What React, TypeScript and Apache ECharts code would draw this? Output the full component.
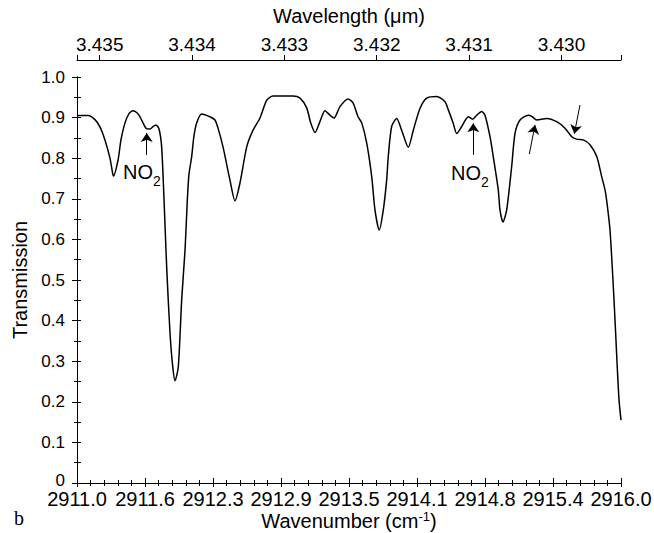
import React, { useEffect, useRef } from "react";
import * as echarts from "echarts";

// ---- data ----
const X0 = 2911.0;
const wavenumber = [
  2911.0, 2911.101, 2911.165, 2911.211, 2911.257, 2911.303, 2911.328, 2911.335, 2911.377, 2911.404,
  2911.441, 2911.478, 2911.515, 2911.551, 2911.579, 2911.634, 2911.671, 2911.699, 2911.726, 2911.754,
  2911.778, 2911.8, 2911.824, 2911.855, 2911.88, 2911.901, 2911.931, 2911.962, 2911.993, 2912.014,
  2912.029, 2912.054, 2912.075, 2912.1, 2912.146, 2912.222, 2912.268, 2912.296, 2912.342, 2912.406,
  2912.452, 2912.498, 2912.56, 2912.618, 2912.682, 2912.744, 2912.801, 2912.985, 2913.05, 2913.111,
  2913.148, 2913.188, 2913.233, 2913.279, 2913.325, 2913.362, 2913.417, 2913.491, 2913.537, 2913.583,
  2913.617, 2913.663, 2913.709, 2913.739, 2913.778, 2913.815, 2913.846, 2913.861, 2913.892, 2913.938,
  2913.984, 2914.045, 2914.091, 2914.153, 2914.214, 2914.306, 2914.382, 2914.413, 2914.458, 2914.49,
  2914.536, 2914.597, 2914.637, 2914.674, 2914.72, 2914.75, 2914.796, 2914.826, 2914.872, 2914.888,
  2914.915, 2914.949, 2914.995, 2915.026, 2915.072, 2915.148, 2915.18, 2915.226, 2915.317, 2915.409,
  2915.485, 2915.547, 2915.592, 2915.654, 2915.715, 2915.777, 2915.823, 2915.853, 2915.871, 2915.899,
  2915.936, 2915.963, 2915.982, 2916.0,
];
const transmission = [
  0.905, 0.905, 0.895, 0.877, 0.845, 0.8, 0.762, 0.756, 0.795, 0.845,
  0.887, 0.91, 0.917, 0.912, 0.902, 0.874, 0.872, 0.878, 0.882, 0.872,
  0.828, 0.697, 0.533, 0.369, 0.286, 0.252, 0.286, 0.451, 0.574, 0.697,
  0.76, 0.804, 0.855, 0.887, 0.909, 0.902, 0.894, 0.874, 0.828, 0.746,
  0.695, 0.739, 0.828, 0.869, 0.899, 0.943, 0.953, 0.953, 0.948, 0.924,
  0.887, 0.863, 0.89, 0.917, 0.906, 0.899, 0.927, 0.946, 0.936, 0.902,
  0.887, 0.837, 0.754, 0.672, 0.623, 0.672, 0.746, 0.804, 0.878, 0.898,
  0.869, 0.827, 0.869, 0.923, 0.948, 0.952, 0.939, 0.919, 0.886, 0.861,
  0.878, 0.902, 0.896, 0.906, 0.915, 0.906, 0.853, 0.804, 0.722, 0.672,
  0.643, 0.672, 0.779, 0.861, 0.894, 0.906, 0.903, 0.894, 0.898, 0.89,
  0.874, 0.853, 0.847, 0.845, 0.833, 0.804, 0.754, 0.722, 0.69, 0.623,
  0.45, 0.3, 0.204, 0.155,
];
const wavenumberTickLabels = [
  "2911.0", "2911.6", "2912.3", "2912.9", "2913.5", "2914.1", "2914.8", "2915.4", "2916.0",
];
const wavelengthTicks = [3.435, 3.434, 3.433, 3.432, 3.431, 3.43];
// annotation arrows: [x1, y1, x2, y2] in wavenumber / transmission (head at x2,y2)
const arrows = [
  [2911.641, 0.808, 2911.641, 0.862],
  [2914.642, 0.808, 2914.642, 0.886],
  [2915.157, 0.81, 2915.21, 0.882],
  [2915.623, 0.931, 2915.571, 0.86],
];

const FONT = "Liberation Sans, Arial, Helvetica, sans-serif";

export default function App() {
  const ref = useRef<HTMLDivElement>(null);
  useEffect(() => {
    if (!ref.current) return;
    const chart = echarts.init(ref.current, undefined, { renderer: "svg" });
    const wlMin = 1e4 / 2916.0;
    const wlMax = 1e4 / 2911.0;
    const seriesData = wavenumber.map((w, i) => [w - X0, transmission[i]]);
    const axisLineStyle = { color: "#000", width: 1 };
    chart.setOption({
      animation: false,
      backgroundColor: "#fff",
      textStyle: { fontFamily: FONT, color: "#000" },
      grid: { left: 77, right: 33, top: 77, bottom: 50, containLabel: false, outerBoundsMode: "none" },
      xAxis: [
        {
          type: "value",
          position: "bottom",
          min: 0,
          max: 5,
          interval: 0.625,
          axisLine: { show: true, lineStyle: axisLineStyle },
          axisTick: { show: true, inside: true, length: 5, lineStyle: axisLineStyle },
          minorTick: { show: true, splitNumber: 5, length: 3, lineStyle: { color: "#000", width: 1 } },
          splitLine: { show: false },
          minorSplitLine: { show: false },
          axisLabel: {
            color: "#000",
            fontSize: 20,
            lineHeight: 20,
            fontFamily: FONT,
            margin: 6,
            formatter: (_v: number, i: number) => wavenumberTickLabels[i] ?? "",
          },
          name: "{a|Wavenumber (cm}{s|-1}{a|)}",
          nameLocation: "middle",
          nameGap: 27,
          nameMoveOverlap: false,
          nameTextStyle: {
            rich: {
              a: { fontSize: 20, lineHeight: 20, fontFamily: FONT, color: "#000", verticalAlign: "bottom" },
              s: { fontSize: 13, fontFamily: FONT, color: "#000", verticalAlign: "bottom", padding: [0, 0, 8, 0] },
            },
          },
        },
        {
          type: "value",
          position: "top",
          offset: 0,
          min: 0,
          max: 5,
          interval: 0.625,
          axisLine: { show: true, lineStyle: axisLineStyle },
          axisTick: { show: true, inside: true, length: 4, lineStyle: axisLineStyle },
          minorTick: { show: true, splitNumber: 5, length: 3, lineStyle: { color: "#000", width: 1 } },
          splitLine: { show: false },
          axisLabel: { show: false },
        },
        {
          type: "value",
          position: "top",
          offset: 17,
          inverse: true,
          min: wlMin,
          max: wlMax,
          axisLine: { show: true, lineStyle: axisLineStyle },
          axisTick: {
            show: true,
            inside: false,
            length: 5,
            lineStyle: axisLineStyle,
            customValues: [wlMin, ...wavelengthTicks, wlMax],
          },
          splitLine: { show: false },
          axisLabel: {
            color: "#000",
            fontSize: 19,
            fontFamily: FONT,
            margin: 6,
            customValues: wavelengthTicks,
            formatter: (v: number) => v.toFixed(3),
          },
          name: "Wavelength (μm)",
          nameLocation: "middle",
          nameGap: 34,
          nameTextStyle: { fontSize: 20, fontFamily: FONT, color: "#000" },
        },
      ],
      yAxis: [
        {
          type: "value",
          position: "left",
          min: 0,
          max: 1,
          interval: 0.1,
          axisLine: { show: true, lineStyle: axisLineStyle },
          axisTick: { show: true, inside: false, length: 5, lineStyle: axisLineStyle },
          minorTick: { show: true, splitNumber: 2, length: 3, lineStyle: { color: "#000", width: 1 } },
          splitLine: { show: false },
          axisLabel: {
            color: "#000",
            fontSize: 17,
            fontFamily: FONT,
            margin: 12,
            formatter: (v: number) => (v === 0 ? "{z|0}" : v.toFixed(1)),
            rich: {
              z: { fontSize: 17, fontFamily: FONT, color: "#000", padding: [0, 0, 6, 0] },
            },
          },
          name: "Transmission",
          nameLocation: "middle",
          nameGap: 44,
          nameTextStyle: { fontSize: 20, fontFamily: FONT, color: "#000" },
        },
        {
          type: "value",
          position: "right",
          min: 0,
          max: 1,
          interval: 0.05,
          axisLine: { show: true, lineStyle: axisLineStyle },
          axisTick: { show: true, inside: false, length: 4, lineStyle: axisLineStyle },
          splitLine: { show: false },
          axisLabel: { show: false },
        },
      ],
      series: [
        {
          type: "line",
          xAxisIndex: 0,
          yAxisIndex: 0,
          data: seriesData,
          showSymbol: false,
          symbol: "none",
          smooth: 0.25,
          lineStyle: { color: "#000", width: 1.5 },
          silent: true,
          markLine: {
            silent: true,
            symbol: ["none", "arrow"],
            symbolSize: 9,
            label: { show: false },
            lineStyle: { color: "#000", width: 1, type: "solid" },
            emphasis: { disabled: true },
            data: arrows.map((a) => [
              { coord: [a[0] - X0, a[1]] },
              { coord: [a[2] - X0, a[3]] },
            ]),
          },
        },
      ],
      graphic: [
        { type: "text", left: 123, top: 162, style: { text: "NO", fontSize: 20, fontFamily: FONT, fill: "#000" } },
        { type: "text", left: 153, top: 174, style: { text: "2", fontSize: 14, fontFamily: FONT, fill: "#000" } },
        { type: "text", left: 451, top: 163, style: { text: "NO", fontSize: 20, fontFamily: FONT, fill: "#000" } },
        { type: "text", left: 481, top: 175, style: { text: "2", fontSize: 14, fontFamily: FONT, fill: "#000" } },
        { type: "text", left: 14, top: 508, style: { text: "b", fontSize: 20, fontFamily: "Liberation Serif, Times New Roman, serif", fill: "#000" } },
      ],
    });
    return () => chart.dispose();
  }, []);
  return (
    <div
      ref={ref}
      style={{ position: "fixed", left: 0, top: 0, width: 654, height: 533, background: "#fff" }}
    />
  );
}
